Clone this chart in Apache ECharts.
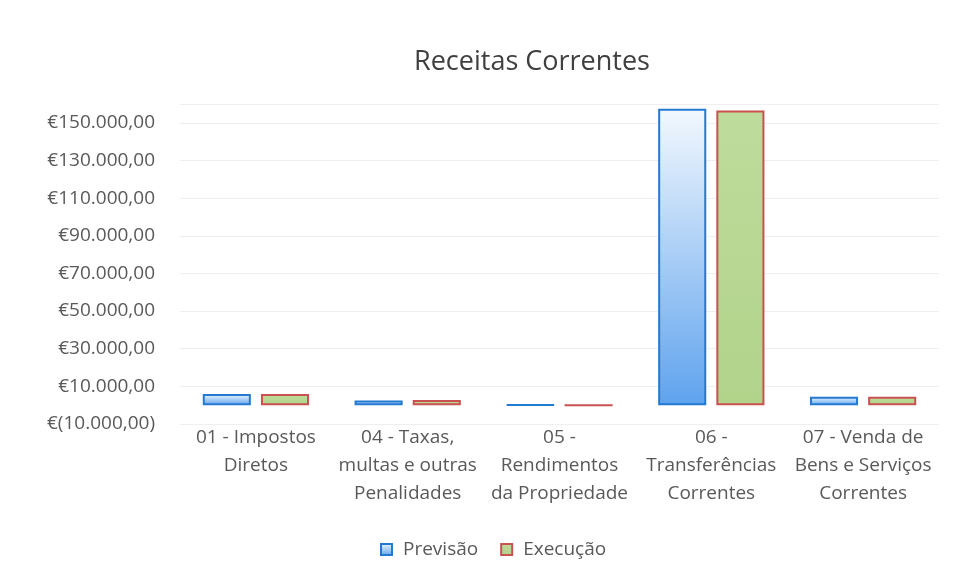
<!DOCTYPE html>
<html>
<head>
<meta charset="utf-8">
<script src="https://cdn.jsdelivr.net/npm/echarts@6/dist/echarts.min.js"></script>
<style>
  html, body { margin: 0; padding: 0; background: #fff; }
  #chart { width: 956px; height: 578px; }
</style>
</head>
<body>
<div id="chart"></div>
<script>
// categorias e valores
const categorias = [
  '01 - Impostos\nDiretos',
  '04 - Taxas,\nmultas e outras\nPenalidades',
  '05 -\nRendimentos\nda Propriedade',
  '06 -\nTransferências\nCorrentes',
  '07 - Venda de\nBens e Serviços\nCorrentes'
];
const previsao = [6000, 2500, 300, 157500, 4500];
const execucao = [6000, 2800, 0, 156500, 4500];

function euro(v) {
  const neg = v < 0;
  const s = Math.abs(v).toString().replace(/\B(?=(\d{3})+(?!\d))/g, '.') + ',00';
  return neg ? '€(' + s + ')' : '€' + s;
}

const chart = echarts.init(document.getElementById('chart'));
const font = '"Open Sans", sans-serif';

const option = {
  animation: false,
  title: {
    text: 'Receitas Correntes',
    left: 527,
    textAlign: 'center',
    top: 44,
    textStyle: { fontFamily: font, fontSize: 27, fontWeight: 'normal', color: '#404040' }
  },
  legend: {
    top: 535,
    left: 375,
    itemWidth: 11,
    itemHeight: 11,
    itemGap: 22,
    icon: 'rect',
    textStyle: { fontFamily: font, fontSize: 19, color: '#595959', padding: [0, 0, 0, 6] },
    data: ['Previsão', 'Execução']
  },
  grid: { left: 180, right: 17, top: 104, bottom: 154 },
  xAxis: {
    type: 'category',
    data: categorias,
    axisLine: { onZero: false, show: false },
    axisTick: { show: false },
    axisLabel: {
      interval: 0,
      margin: 0,
      fontFamily: font,
      fontSize: 19,
      lineHeight: 28,
      color: '#595959'
    }
  },
  yAxis: {
    type: 'value',
    min: -10000,
    max: 160000,
    interval: 20000,
    axisLine: { show: false },
    axisTick: { show: false },
    splitLine: { lineStyle: { color: '#efefef' } },
    axisLabel: {
      showMaxLabel: false,
      margin: 25,
      fontFamily: font,
      fontSize: 19,
      color: '#595959',
      formatter: euro
    }
  },
  series: [
    {
      name: 'Previsão',
      type: 'bar',
      data: previsao,
      barGap: '21%',
      barCategoryGap: '30%',
      itemStyle: {
        borderColor: '#2479d1',
        borderWidth: 2,
        color: new echarts.graphic.LinearGradient(0, 0, 0, 1, [
          { offset: 0, color: '#f3f8fe' },
          { offset: 1, color: '#5ea3ee' }
        ])
      }
    },
    {
      name: 'Execução',
      type: 'bar',
      data: execucao,
      itemStyle: {
        borderColor: '#c9514f',
        borderWidth: 2,
        color: new echarts.graphic.LinearGradient(0, 0, 0, 1, [
          { offset: 0, color: '#bedc9c' },
          { offset: 1, color: '#b1d38a' }
        ])
      }
    }
  ]
};

chart.setOption(option);
</script>
</body>
</html>
